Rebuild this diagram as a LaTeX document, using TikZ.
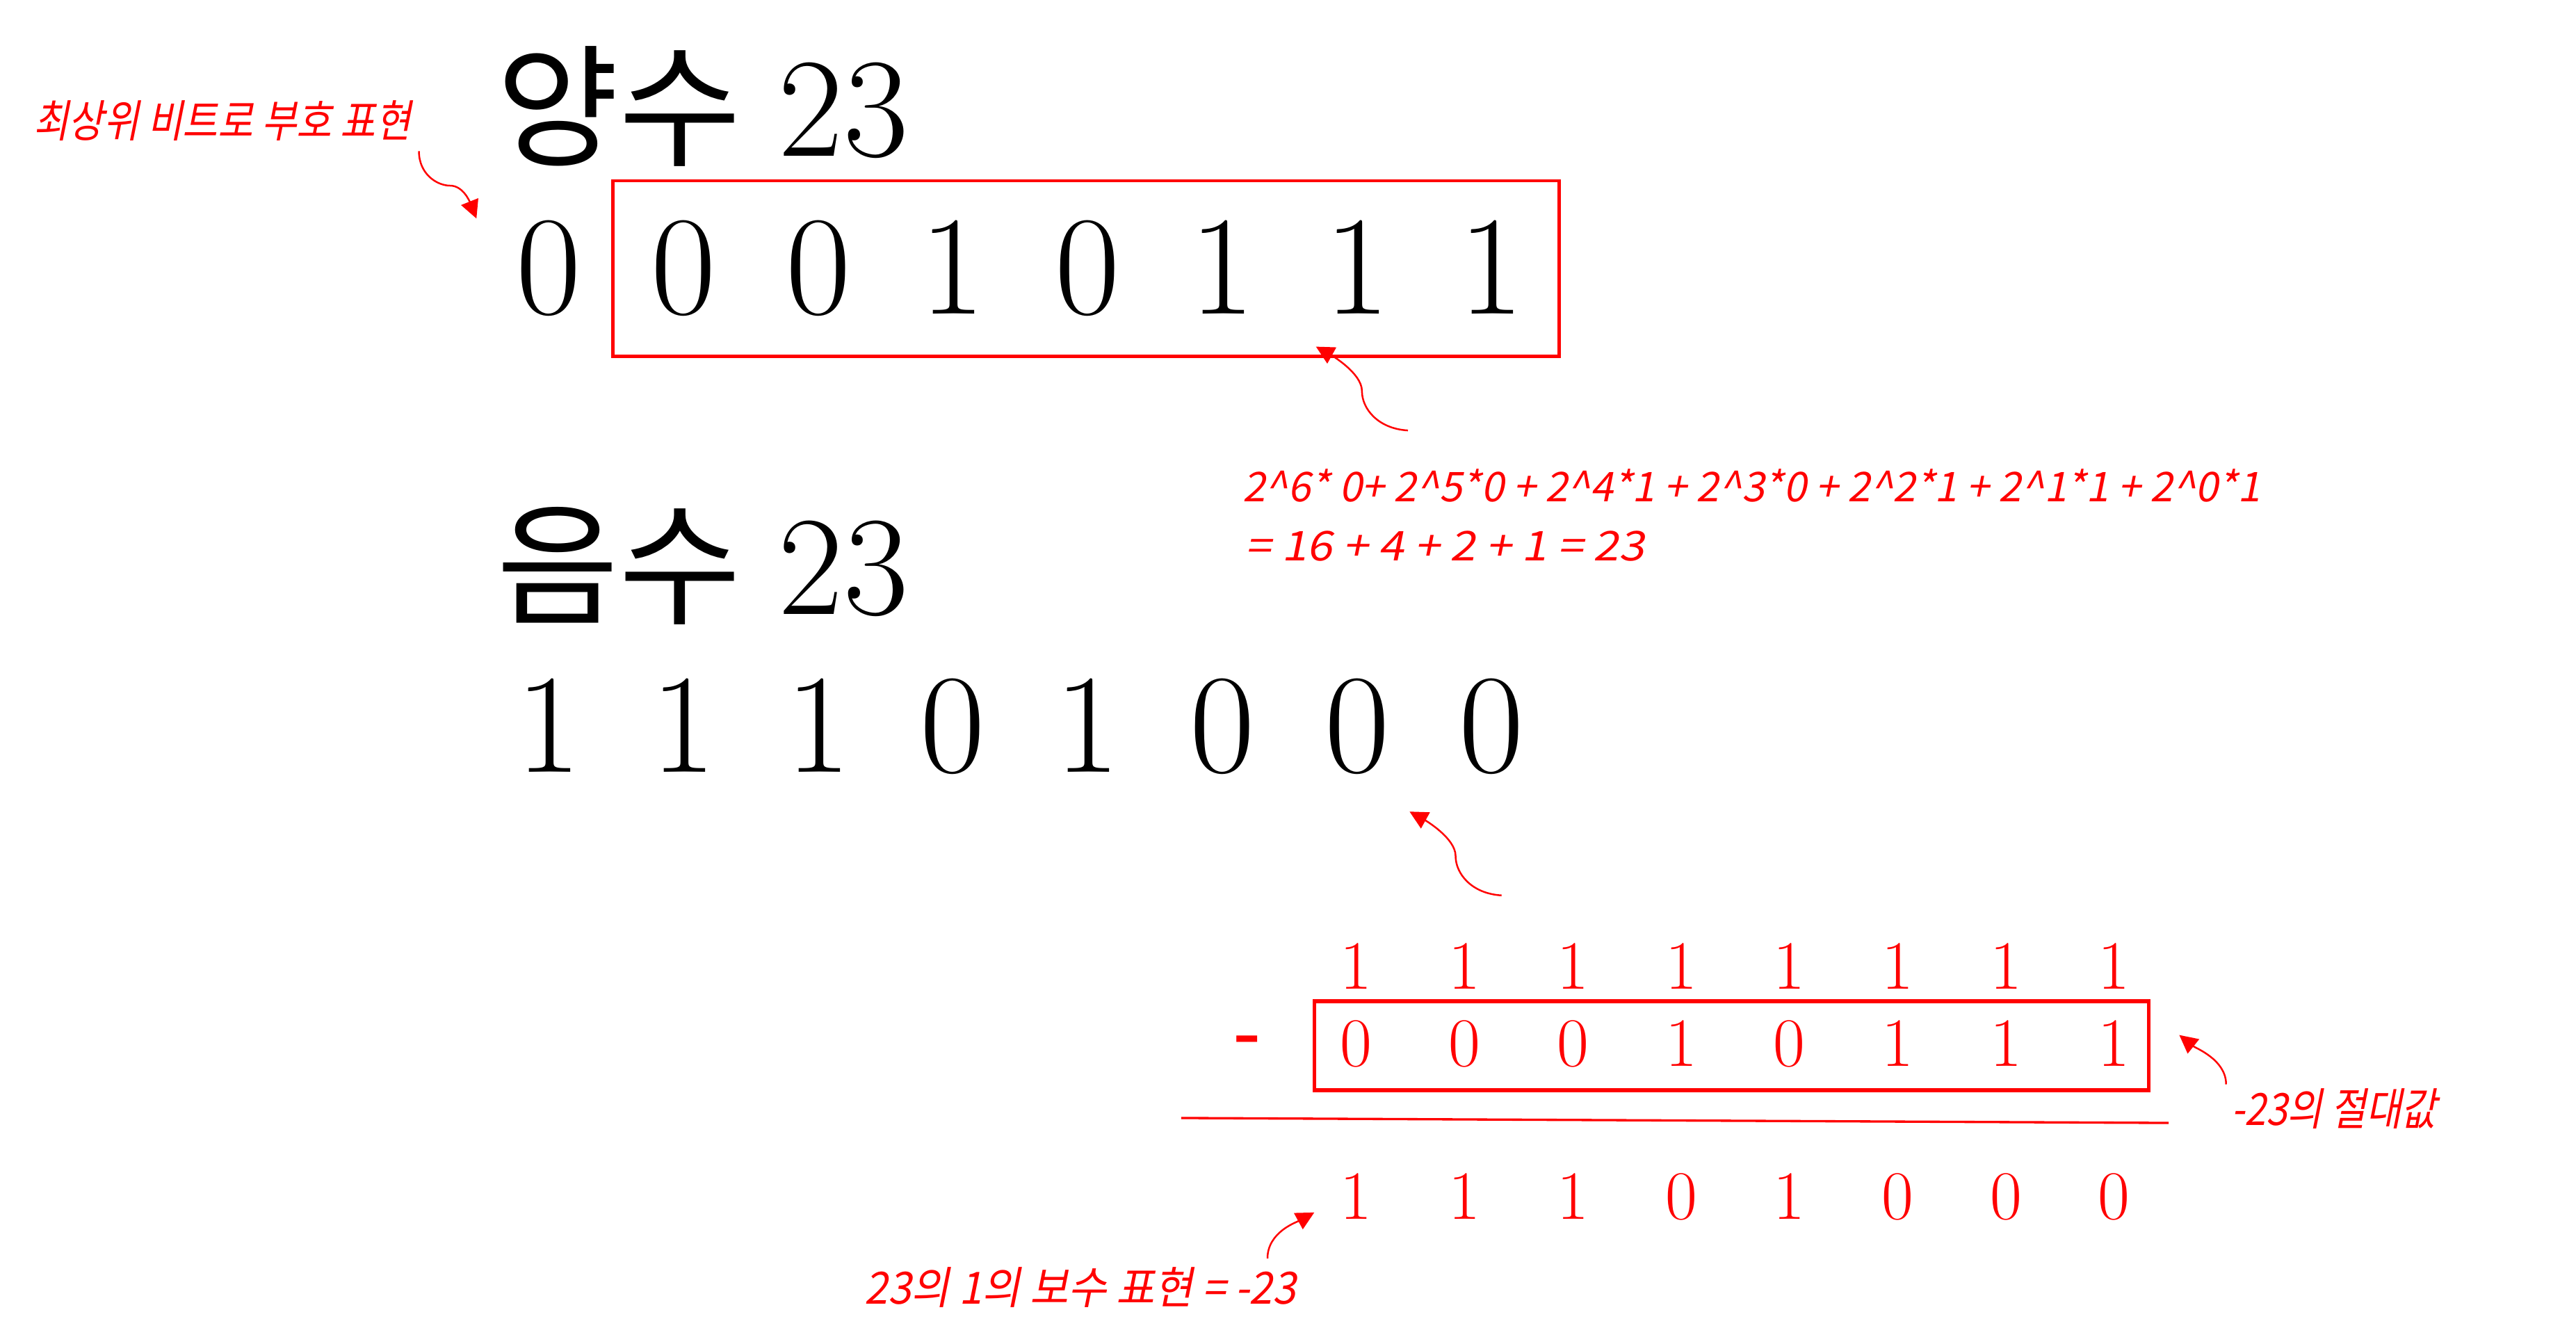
\documentclass[tikz,border=0pt]{standalone}
\usepackage{fontspec}
\usepackage{xcolor}
\usetikzlibrary{arrows.meta}
\newfontfamily\kr{Noto Sans CJK KR}
\newfontfamily\hand{Noto Sans CJK KR}[FakeSlant=0.2,FakeStretch=0.86]
\newfontfamily\handwide{Noto Sans CJK KR}[FakeSlant=0.2,FakeStretch=0.94]
\newfontfamily\handnum{Noto Sans CJK KR}[FakeSlant=0.2]
\newfontfamily\handsum{Noto Sans CJK KR}[FakeSlant=0.2,FakeStretch=1.12]
\newcommand\up{\textasciicircum}

\begin{document}
\begin{tikzpicture}[x=0.02cm,y=-0.02cm,
  bigdigit/.style={anchor=base,inner sep=0pt,font=\fontsize{49}{52}\selectfont},
  title/.style={anchor=base west,inner sep=0pt,font=\fontsize{49}{52}\selectfont},
  reddigit/.style={anchor=base,inner sep=0pt,text=red,font=\fontsize{24}{28}\selectfont},
  note/.style={anchor=west,inner sep=0pt,text=red,font=\hand\fontsize{15.4}{18}\selectfont},
  sumline/.style={anchor=west,inner sep=0pt,text=red,font=\handnum\fontsize{14.2}{16}\selectfont},
  redbox/.style={draw=red,line width=1.1pt},
  pointer/.style={red,line width=0.6pt,-{Triangle[length=6.3pt,width=6.3pt]}}]
  \useasboundingbox (0,0) rectangle (1568,818);

  % positive 23
  \node[title] (pos) at (302,95) {{\kr\fontsize{46}{50}\selectfont 양수}\hspace{13pt}23};
  \foreach \d [count=\i] in {0,0,0,1,0,1,1,1}
    \node[bigdigit] (p\i) at ({334+82*(\i-1)},191) {\d};
  \draw[redbox] (373,110) rectangle (949,217);

  % negative 23
  \node[title] (neg) at (302,374) {{\kr\fontsize{46}{50}\selectfont 음수}\hspace{13pt}23};
  \foreach \d [count=\i] in {1,1,1,0,1,0,0,0}
    \node[bigdigit] (n\i) at ({334+82*(\i-1)},470) {\d};

  % one's complement
  \foreach \d [count=\i] in {1,1,1,1,1,1,1,1}
    \node[reddigit] (o\i) at ({825.6+65.9*(\i-1)},602) {\d};
  \foreach \d [count=\i] in {0,0,0,1,0,1,1,1}
    \node[reddigit] (a\i) at ({825.6+65.9*(\i-1)},649) {\d};
  \foreach \d [count=\i] in {1,1,1,0,1,0,0,0}
    \node[reddigit] (r\i) at ({825.6+65.9*(\i-1)},742) {\d};
  \node[reddigit,anchor=center,font=\bfseries\fontsize{24}{28}\selectfont] (minus) at (760,636) {-};
  \draw[redbox,line width=1.3pt] (800,609.4) rectangle (1308,663.6);
  \draw[red,line width=0.8pt] (719,680.5) -- (1320,683.5);

  % notes
  \node[note] (msb) at (20,73.5) {최상위 비트로 부호 표현};
  \node[sumline] (sum) at (756,295.5) {2\up6* 0+ 2\up5*0 + 2\up4*1 + 2\up3*0 + 2\up2*1 + 2\up1*1 + 2\up0*1};
  \node[sumline,font=\handsum\fontsize{14.2}{16}\selectfont] (total) at (758,332.5) {= 16 + 4 + 2 + 1 = 23};
  \node[note,font=\handwide\fontsize{15.4}{18}\selectfont] (ones) at (526,783.5) {23의 1의 보수 표현 = -23};
  \node[note] (absval) at (1358,675) {-23의 절대값};

  \coordinate (s1) at (255,92);   \coordinate (m1) at (274,113); \coordinate (e1) at (290,133);
  \coordinate (s2) at (857,262);  \coordinate (m2) at (829,238); \coordinate (e2) at (801,211);
  \coordinate (s3) at (914,545);  \coordinate (m3) at (886,521); \coordinate (e3) at (858,494);
  \coordinate (s4) at (771.5,766); \coordinate (e4) at (800,738);
  \coordinate (s5) at (1355,660);  \coordinate (e5) at (1326.5,630);

  \draw[pointer] (s1) .. controls +(0,14) and +(-8,0) .. (m1) .. controls +(8,0) and +(-4,-10) .. (e1);
  \draw[pointer] (s2) .. controls +(-18,-1) and +(0,11) .. (m2) .. controls +(0,-11) and +(9,5) .. (e2);
  \draw[pointer] (s3) .. controls +(-18,-1) and +(0,11) .. (m3) .. controls +(0,-11) and +(9,5) .. (e3);
  \draw[pointer] (s4) .. controls +(0,-16) and +(-11,6) .. (e4);
  \draw[pointer] (s5) .. controls +(0,-15) and +(10,8) .. (e5);
\end{tikzpicture}
\end{document}
